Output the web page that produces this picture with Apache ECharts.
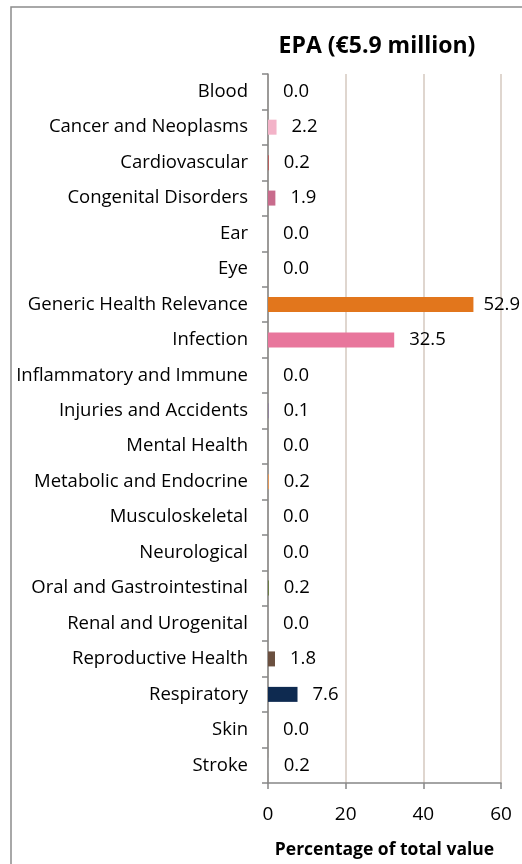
<!DOCTYPE html>
<html>
<head>
<meta charset="utf-8">
<script src="https://cdn.jsdelivr.net/npm/echarts@6/dist/echarts.min.js"></script>
<style>
html,body{margin:0;padding:0;background:#fff;}
#c{width:522px;height:864px;}
</style>
</head>
<body>
<div id="c"></div>
<script>
const title = 'EPA (€5.9 million)';
const axisTitle = 'Percentage of total value';
const categories = ['Blood','Cancer and Neoplasms','Cardiovascular','Congenital Disorders','Ear','Eye','Generic Health Relevance','Infection','Inflammatory and Immune','Injuries and Accidents','Mental Health','Metabolic and Endocrine','Musculoskeletal','Neurological','Oral and Gastrointestinal','Renal and Urogenital','Reproductive Health','Respiratory','Skin','Stroke'];
const values = [0.0,2.2,0.2,1.9,0.0,0.0,52.9,32.5,0.0,0.1,0.0,0.2,0.0,0.0,0.2,0.0,1.8,7.6,0.0,0.2];
const colors = ['#b0272d','#f3b3c8','#c0504d','#c86b8c','#7f7f7f','#4f81bd','#e2761c','#e8769c','#9bbb59','#8064a2','#4bacc6','#f79646','#2c4d75','#772c2a','#5f7530','#4d3b62','#6b5040','#0e2a50','#d99694','#a5a5a5'];
const xTicks = [0,20,40,60];

const FONT = 'Open Sans';
const chart = echarts.init(document.getElementById('c'), null, {renderer:'canvas'});
const data = values.map((v,i)=>({
  value:v,
  itemStyle:{color:colors[i]},
  label:{distance: v > 50 ? 10 : 15}
}));
chart.setOption({
  animation:false,
  backgroundColor:'#fff',
  graphic:[{type:'rect',shape:{x:11,y:7,width:600,height:900},style:{fill:'none',stroke:'#8c8c8c',lineWidth:1.5},z:-1}],
  title:{text:title,left:372,top:30,textAlign:'center',textStyle:{fontFamily:FONT,fontWeight:'bold',fontSize:23,color:'#000'}},
  grid:{left:268,right:21,top:74,bottom:81,containLabel:false},
  xAxis:{type:'value',min:xTicks[0],max:xTicks[xTicks.length-1],interval:20,
    axisLine:{show:true,lineStyle:{color:'#868686',width:1.5}},
    axisTick:{show:true,length:6,lineStyle:{color:'#868686',width:1.5}},
    axisLabel:{fontFamily:FONT,fontSize:19,color:'#000',margin:22},
    splitLine:{show:true,lineStyle:{color:'#d4c9bf',width:1.5}},
    name:axisTitle,nameLocation:'middle',nameGap:58,
    nameTextStyle:{fontFamily:FONT,fontWeight:'bold',fontSize:17.5,color:'#000'}
  },
  yAxis:{type:'category',data:categories,inverse:true,
    axisLine:{show:true,lineStyle:{color:'#868686',width:1.5}},
    axisTick:{show:true,length:6,lineStyle:{color:'#868686',width:1.5}},
    axisLabel:{fontFamily:FONT,fontSize:18.5,color:'#000',margin:20}
  },
  series:[{type:'bar',data:data,barWidth:15,
    label:{show:true,position:'right',fontFamily:FONT,fontSize:18.5,color:'#000',
      formatter:p=>p.value.toFixed(1)}
  }]
});
</script>
</body>
</html>
